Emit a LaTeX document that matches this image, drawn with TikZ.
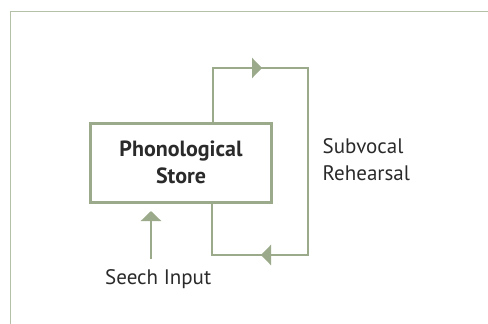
\documentclass[tikz,border=0pt]{standalone}
\usepackage{fontspec}
\setmainfont{PT Sans}
\usetikzlibrary{arrows.meta}
\definecolor{lg}{HTML}{9AAA8A}
\definecolor{fr}{HTML}{B4C1A6}
\definecolor{txt}{HTML}{2A2A2A}
\tikzset{
  box/.style={draw=lg, line width=3.5pt, minimum width=181pt, minimum height=79pt, inner sep=0pt, align=center, text=txt, font=\fontsize{22}{27}\selectfont\bfseries},
  lbl/.style={text=txt, font=\fontsize{21}{27}\selectfont, inner sep=0pt},
  conn/.style={draw=lg, line width=2.6pt},
  tip/.style={-{Triangle[length=10pt,width=20pt]}}
}
\begin{document}
\begin{tikzpicture}[x=1pt,y=-1pt]
\useasboundingbox (0,0) rectangle (488,324);
\clip (0,0) rectangle (488,324);
\draw[fr, line width=1.3pt] (10.5,340) -- (10.5,11.5) -- (500,11.5);
\node[box] (ps) at (181,162.75) {Phonological\\Store};
\coordinate (t1) at (213,68);
\coordinate (tm) at (262,68);
\coordinate (t2) at (308,68);
\coordinate (t3) at (308,255);
\coordinate (bm) at (261,255);
\coordinate (t4) at (212,255);
\draw[conn] (ps.north -| t1) -- (t1) -- (tm);
\draw[conn, tip] (t1) -- (tm);
\draw[conn] (tm) -- (t2) -- (t3) -- (bm);
\draw[conn, tip] (t3) -- (bm);
\draw[conn] (bm) -- (t4) -- (ps.south -| t4);
\coordinate (in) at (151,259);
\draw[conn, tip, shorten >=7pt] (in) -- (ps.south -| in);
\node[lbl, anchor=base west] (sv) at (322.5,153) {Subvocal};
\node[lbl, anchor=base west] (rh) at (322.5,180) {Rehearsal};
\node[lbl, anchor=base west] (si) at (105,284) {Seech Input};
\end{tikzpicture}
\end{document}
